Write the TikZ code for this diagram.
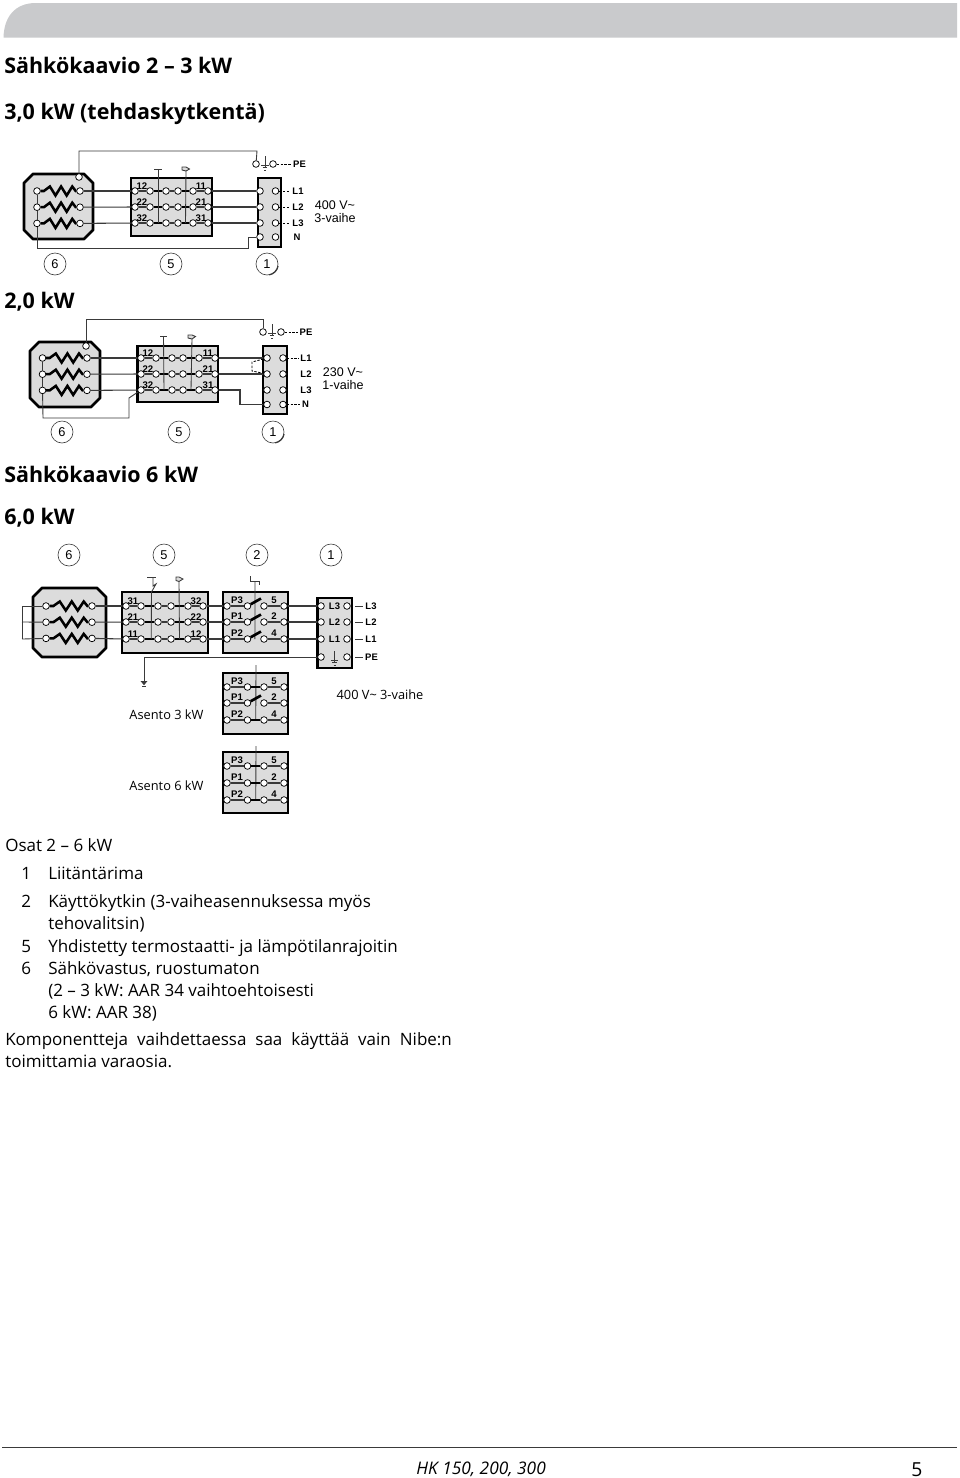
\documentclass[tikz,border=0pt]{standalone}
\usepackage{fontspec}
\setmainfont{Open Sans}
\newfontfamily\diagfont{Liberation Sans}
\usetikzlibrary{calc}
\definecolor{panelgray}{HTML}{DCDCDC}
\definecolor{bargray}{HTML}{C9CACC}
\definecolor{wiregray}{HTML}{3A3A3A}
\tikzset{
  term/.style={circle,draw=black,fill=white,inner sep=0pt,minimum size=5pt,line width=.55pt},
  wire/.style={draw=wiregray,line width=.8pt},
  fine/.style={draw=wiregray,line width=.65pt},
  link/.style={draw=black,line width=2pt},
  dotwire/.style={draw=black,line width=.65pt,dash pattern=on 1.8pt off 1.1pt,shorten >=1.2pt},
  zig/.style={draw=black,line width=1.9pt,line join=miter},
  panelbox/.style={draw=black,fill=panelgray,line width=2.1pt,inner sep=0pt,outer sep=0pt},
  ring/.style={circle,draw=wiregray,fill=white,line width=.45pt,inner sep=0pt,minimum size=16.5pt,font=\diagfont\fontsize{9.6}{10}\selectfont,text=black},
  lab/.style={inner sep=0pt,font=\diagfont\bfseries\fontsize{7.2}{8}\selectfont,text=black},
  labb/.style={inner sep=0pt,font=\diagfont\bfseries\fontsize{7.1}{8}\selectfont,text=black},
  volt/.style={inner sep=0pt,font=\diagfont\fontsize{9.4}{10}\selectfont,text=black},
  headtext/.style={inner sep=0pt,anchor=base west,font=\bfseries\fontsize{16.1}{17}\selectfont,text=black},
  bodytext/.style={inner sep=0pt,anchor=base west,font=\fontsize{12.75}{14}\selectfont,text=black},
  smalltext/.style={inner sep=0pt,font=\fontsize{9.6}{12}\selectfont,text=black},
}
% name, x0, y0, x1, y1
\newcommand{\panel}[5]{\node[panelbox,minimum width={(#4-#2)*.75pt},minimum height={(#5-#3)*.75pt}] (#1) at ({(#2+#4)/2},{(#3+#5)/2}) {};}
% prefix, x0,y0,x1,y1, cl, cr, r1 (rows r1, r1+16, ...)
\newcommand{\heater}[8]{%
  \draw[panelbox,line join=round] (#2+9,#3)--(#4-9,#3)--(#4,#3+9)--(#4,#5-9)--(#4-9,#5)--(#2+9,#5)--(#2,#5-9)--(#2,#3+9)--cycle;
  \foreach \i/\d in {1/0,2/16.2,3/32.4}{
    \node[term] (#1l\i) at (#6,#8+\d) {};
    \node[term] (#1r\i) at (#7,#8+\d) {};
    \draw[zig] (#1l\i) -- ++({(#7-#6)*.16},0) -- ++({(#7-#6)*.14},-4.5) -- ++({(#7-#6)*.13},9) -- ++({(#7-#6)*.13},-9) -- ++({(#7-#6)*.13},9) -- ++({(#7-#6)*.13},-9) -- ++({(#7-#6)*.08},4.5) -- (#1r\i);
  }
}
% name, y, xlist, left label, right label
\newcommand{\sixrow}[5]{%
  \foreach \n/\x in {#3}{\node[term] (#1\n) at (\x,#2) {};}
  \draw[wire] (#1a)--(#1b); \draw[wire] (#1c)--(#1d); \draw[wire] (#1e)--(#1f);
  \draw[link] (#1b)--(#1c); \draw[link] (#1d)--(#1e);
  \node[lab] (#1ll) at ($(#1a)+(7,-5.2)$) {#4};
  \node[lab] (#1lr) at ($(#1f)+(-7,-5.2)$) {#5};
}
% name, y, left label, right label
\newcommand{\fourrow}[4]{%
  \foreach \n/\x in {a/227,b/247.5,c/264,d/284}{\node[term] (#1\n) at (\x,#2) {};}
  \draw[wire] (#1a)--(#1b); \draw[wire] (#1c)--(#1d);
  \node[lab] (#1ll) at ($(#1a)+(10,-5.5)$) {#3};
  \node[lab] (#1lr) at ($(#1d)+(-10,-5.5)$) {#4};
}
% name, x, y
\newcommand{\earth}[3]{%
  \coordinate (#1t) at (#2,#3); \coordinate (#1b) at (#2,#3+12);
  \draw[fine] (#1t)--(#1b);
  \draw[fine] ($(#1b)+(-3.6,-3)$)--($(#1b)+(3.6,-3)$);
  \draw[fine] ($(#1b)+(-2.4,-.5)$)--($(#1b)+(2.4,-.5)$);
  \draw[fine] ($(#1b)+(-1,2)$)--($(#1b)+(1,2)$);
}
\begin{document}
\begin{tikzpicture}[x=.75pt,y=-.75pt]
\useasboundingbox (0,0) rectangle (960,1478);
\fill[white] (0,0) rectangle (960,1478);
% header bar and footer rule
\fill[bargray] (3.5,37.5) .. controls (4,18) and (14,3) .. (36,3) -- (957,3) -- (957,37.5) -- cycle;
\coordinate (footl) at (2,1447.5); \coordinate (footr) at (957,1447.5);
\draw[draw=wiregray,line width=.8pt] (footl)--(footr);
% headings
\node[headtext] (h1) at (4,73) {Sähkökaavio 2 – 3 kW};
\node[headtext] (h2) at (4,119) {3,0 kW (tehdaskytkentä)};
\node[headtext] (h3) at (4,308) {2,0 kW};
\node[headtext] (h4) at (4,482) {Sähkökaavio 6 kW};
\node[headtext] (h5) at (4,524) {6,0 kW};

%% ===== diagram 1 =====
\heater{A}{24}{174}{93}{239}{37}{80}{191}
\node[term] (Atop) at (79,177) {};
\panel{Asw}{131}{178}{212}{236}
\coordinate (As1) at (158,169.5);
\coordinate (As2) at (186,171);
\sixrow{Aa}{191}{a/135,b/150,c/166,d/178,e/193,f/208}{12}{11}
\sixrow{Ab}{207}{a/135,b/150,c/166,d/178,e/193,f/208}{22}{21}
\sixrow{Ac}{223}{a/135,b/150,c/166,d/178,e/193,f/208}{32}{31}
\panel{Atb}{258}{178}{281}{247}
\foreach \i/\y in {1/191,2/207,3/223,4/237}{
  \node[term] (Atl\i) at (260,\y) {};
  \node[term] (Atr\i) at (275.5,\y) {};
}
\draw[wire] (Ar1)--(Aaa); \draw[wire] (Ar2)--(Aba); \draw[wire] (Ar3)--(Aca);
\draw[wire] (Aaf)--(Atl1); \draw[wire] (Abf)--(Atl2); \draw[wire] (Acf)--(Atl3);
\draw[fine] (Al1)--(Al2); \draw[fine] (Al2)--(Al3);
\coordinate (Ab1) at (37,248); \coordinate (Ab2) at (248,248); \coordinate (Ab3) at (248,237);
\draw[fine] (Al3)--(Ab1)--(Ab2)--(Ab3)--(Atl4);
\node[term] (Ape1) at (256,164) {};
\node[term] (Ape2) at (273,164) {};
\coordinate (At1) at (79,151); \coordinate (At2) at (257,151);
\draw[fine] (Atop)--(At1)--(At2)--(Ape1);
\earth{Ae}{265}{156}
\node[labb] (ApeL) at (299.5,164) {PE};
\node[labb] (Al1L) at (298,191) {L1};
\node[labb] (Al2L) at (298,207) {L2};
\node[labb] (Al3L) at (298,223) {L3};
\node[labb] (AnL) at (297,237) {N};
\draw[dotwire] (Ape2)--(ApeL);
\draw[dotwire] (Atr1)--(Al1L); \draw[dotwire] (Atr2)--(Al2L); \draw[dotwire] (Atr3)--(Al3L);
\node[volt] (Av1) at (335,205) {400 V\textasciitilde};
\node[volt] (Av2) at (335,218) {3-vaihe};
\coordinate (As1a) at (154,169.5); \coordinate (As1b) at (162,169.5);
\draw[fine] (As1a)--(As1b);
\draw[fine] (As1)--($(Acb)!.5!(Acc)$);
\draw[fine,fill=panelgray] (182,167)--(186,167)--(189.5,169)--(186,171)--(182,170)--cycle;
\draw[fine] (As2)--($(Acd)!.5!(Ace)$);
\node[ring] (An6) at (55,264) {6};
\node[ring] (An5) at (171,264) {5};
\node[ring] (An1) at (267,264) {1};
\draw[wiregray,line width=.9pt] (An1.-10) arc (10:80:11);

%% ===== diagram 2 =====
\heater{B}{30}{342}{100}{407}{42.5}{87}{358}
\node[term] (Btop) at (86,346) {};
\panel{Bsw}{137.5}{346}{218}{402}
\sixrow{Ba}{358}{a/141,b/156,c/172,d/183,e/199,f/215}{12}{11}
\sixrow{Bb}{374}{a/141,b/156,c/172,d/183,e/199,f/215}{22}{21}
\sixrow{Bc}{390}{a/141,b/156,c/172,d/183,e/199,f/215}{32}{31}
\panel{Btb}{263}{346}{287}{414}
\foreach \i/\y in {1/358,2/374,3/390,4/404.5}{
  \node[term] (Btl\i) at (267,\y) {};
  \node[term] (Btr\i) at (283,\y) {};
}
\draw[wire] (Br1)--(Baa); \draw[wire] (Br2)--(Bba); \draw[wire] (Br3)--(Bca);
\draw[wire] (Baf)--(Btl1); \draw[wire] (Bbf)--(Btl2);
\coordinate (Bn1) at (240,390); \coordinate (Bn2) at (240,404.5);
\draw[wire] (Bcf)--(Bn1)--(Bn2)--(Btl4);
\draw[fine] (Bl1)--(Bl2); \draw[fine] (Bl2)--(Bl3);
\coordinate (Bb1) at (43,418); \coordinate (Bb2) at (129,418); \coordinate (Bb3) at (129,398);
\draw[fine] (Bl3)--(Bb1)--(Bb2)--(Bb3)--(Bca);
\coordinate (Bd1) at (252,362); \coordinate (Bd2) at (252,371);
\draw[dotwire,shorten >=0pt] (Btl1)--(Bd1)--(Bd2)--(Btl2);
\node[term] (Bpe1) at (263,332) {};
\node[term] (Bpe2) at (281,332) {};
\coordinate (Bt1) at (86,319); \coordinate (Bt2) at (263,319);
\draw[fine] (Btop)--(Bt1)--(Bt2)--(Bpe1);
\earth{Be}{272}{324}
\node[labb] (BpeL) at (306,332) {PE};
\node[labb] (Bl1L) at (306,358) {L1};
\node[labb] (Bl2L) at (306,374) {L2};
\node[labb] (Bl3L) at (306,390) {L3};
\node[labb] (BnL) at (305.5,404.5) {N};
\draw[dotwire] (Bpe2)--(BpeL); \draw[dotwire] (Btr1)--(Bl1L); \draw[dotwire] (Btr4)--(BnL);
\node[volt] (Bv1) at (343,372) {230 V\textasciitilde};
\node[volt] (Bv2) at (343,385) {1-vaihe};
\coordinate (Bs1a) at (160,336.5); \coordinate (Bs1b) at (167,336.5); \coordinate (Bs1) at (163.5,336.5);
\draw[fine] (Bs1a)--(Bs1b);
\draw[fine] (Bs1)--($(Bcb)!.5!(Bcc)$);
\coordinate (Bs2) at (192,339);
\draw[fine,fill=panelgray] (188,335)--(192,335)--(195.5,336.5)--(192,339)--(188,338)--cycle;
\draw[fine] (Bs2)--($(Bcd)!.5!(Bce)$);
\node[ring] (Bn6) at (62,432) {6};
\node[ring] (Bn5) at (179,432) {5};
\node[ring] (Bn1) at (273,432) {1};
\draw[wiregray,line width=.9pt] (Bn1.-10) arc (10:80:11);

%% ===== diagram 3 =====
\node[ring] (Cn6) at (69,555) {6};
\node[ring] (Cn5) at (164,555) {5};
\node[ring] (Cn2) at (257,555) {2};
\node[ring] (Cn1) at (331,555) {1};
\heater{C}{33}{588}{106}{657}{46}{92}{606}
\panel{Csw}{122}{592}{208}{653}
\sixrow{Ca}{606}{a/126,b/141,c/158,d/171,e/188,f/203}{31}{32}
\sixrow{Cb}{622}{a/126,b/141,c/158,d/171,e/188,f/203}{21}{22}
\sixrow{Cc}{639}{a/126,b/141,c/158,d/171,e/188,f/203}{11}{12}
\panel{Cps}{223}{592}{288}{653}
\fourrow{Pa}{606}{P3}{5}
\fourrow{Pb}{622}{P1}{2}
\fourrow{Pc}{639}{P2}{4}
\panel{Ctb}{317.5}{598}{352}{668}
\foreach \i/\y/\t in {1/606/L3,2/622/L2,3/639/L1,4/657/{}}{
  \node[term] (Ctl\i) at (321,\y) {};
  \node[term] (Ctr\i) at (347,\y) {};
  \node[labb] (Cin\i) at (334.5,\y) {\t};
}
\draw[wire] (Cr1)--(Caa); \draw[wire] (Cr2)--(Cba); \draw[wire] (Cr3)--(Cca);
\draw[wire] (Caf)--(Paa); \draw[wire] (Cbf)--(Pba); \draw[wire] (Ccf)--(Pca);
\draw[wire] (Pad)--(Ctl1); \draw[wire] (Pbd)--(Ctl2); \draw[wire] (Pcd)--(Ctl3);
\coordinate (Cbus1) at (22,606); \coordinate (Cbus2) at (22,622); \coordinate (Cbus3) at (22,639);
\draw[fine] (Cl1)--(Cbus1); \draw[fine] (Cl2)--(Cbus2); \draw[fine] (Cl3)--(Cbus3);
\draw[fine] (Cbus1)--(Cbus3);
\earth{Ce}{334.5}{651}
\coordinate (Cg1) at (144,657); \coordinate (Cg2) at (144,684);
\draw[fine] (Ctl4)--(Cg1)--(Cg2);
\draw[fine,fill=wiregray] (141.5,681.5)--(146.5,681.5)--(144,684.5)--cycle;
\draw[fine] (142,686.5)--(146,686.5);
\node[labb] (CoL3) at (371,606) {L3};
\node[labb] (CoL2) at (371,622) {L2};
\node[labb] (CoL1) at (371,639) {L1};
\node[labb] (CoPE) at (371.5,657) {PE};
\draw[fine,shorten >=1.5pt] (Ctr1)++(8,0) -- (CoL3.west); \draw[fine,shorten >=1.5pt] (Ctr2)++(8,0) -- (CoL2.west);
\draw[fine,shorten >=1.5pt] (Ctr3)++(8,0) -- (CoL1.west); \draw[fine,shorten >=1.5pt] (Ctr4)++(8,0) -- (CoPE.west);
% contactor stems
\draw[fine] (147,577.5)--(155.5,577.5);
\coordinate (Cs1) at (151.5,592);
\draw[fine] (153,577.5)--(153,586)--(156,584)--(Cs1)--($(Ccb)!.6!(Ccc)$);
\coordinate (Cs2) at (179,581.5);
\draw[fine,fill=panelgray] (176,577)--(179,577)--(183,579)--(179,581.5)--(176,580.5)--cycle;
\draw[fine] (Cs2)--($(Ccd)!.5!(Cce)$);
\coordinate (Cs3) at (255,581);
\draw[fine] (250,576)--(250,581)--(259,581)--(259,585);
\draw[fine] (Cs3)--($(Pcb)!.45!(Pcc)$);
\draw[link] (Pab)--++(13.5,-7.5); \draw[link] (Pbb)--++(13.5,-7.5); \draw[link] (Pcb)--++(13.5,-7.5);
\node[smalltext] (Cv) at (380,694.5) {400 V\textasciitilde{} 3-vaihe};

%% position 3 kW
\panel{Dps}{223}{673}{288}{734}
\fourrow{Da}{687}{P3}{5}
\fourrow{Db}{703}{P1}{2}
\fourrow{Dc}{720}{P2}{4}
\coordinate (Dtop) at (256,665);
\draw[fine] (Dtop)--($(Dcb)!.5!(Dcc)$);
\draw[link] (Dab)--(Dac); \draw[link] (Dcb)--(Dcc); \draw[link] (Dbb)--++(13.5,-7.5);
\node[smalltext] (Dt) at (166.5,714.5) {Asento 3 kW};

%% position 6 kW
\panel{Eps}{223}{752}{288}{813}
\fourrow{Ea}{766}{P3}{5}
\fourrow{Eb}{783}{P1}{2}
\fourrow{Ec}{800}{P2}{4}
\coordinate (Etop) at (256,746);
\draw[fine] (Etop)--($(Ecb)!.5!(Ecc)$);
\draw[link] (Eab)--(Eac); \draw[link] (Ebb)--(Ebc); \draw[link] (Ecb)--(Ecc);
\node[smalltext] (Et) at (166.5,785.5) {Asento 6 kW};

%% parts list
\node[bodytext] (o0) at (5,851) {Osat 2 – 6 kW};
\node[bodytext] (n1) at (21,879) {1};
\node[bodytext] (t1) at (48,879) {Liitäntärima};
\node[bodytext] (n2) at (21,907) {2};
\node[bodytext] (t2) at (48,907) {Käyttökytkin (3-vaiheasennuksessa myös};
\node[bodytext] (t2b) at (48,929) {tehovalitsin)};
\node[bodytext] (n5) at (21,952) {5};
\node[bodytext] (t5) at (48,952) {Yhdistetty termostaatti- ja lämpötilanrajoitin};
\node[bodytext] (n6) at (21,974) {6};
\node[bodytext] (t6) at (48,974) {Sähkövastus, ruostumaton};
\node[bodytext] (t6b) at (48,996) {(2 – 3 kW: AAR 34 vaihtoehtoisesti};
\node[bodytext] (t6c) at (48,1018) {6 kW: AAR 38)};
\node[bodytext] (k1) at (5,1045) {\makebox[335pt][s]{Komponentteja vaihdettaessa saa käyttää vain Nibe:n}};
\node[bodytext] (k2) at (5,1067) {toimittamia varaosia.};
%% footer
\node[bodytext,font=\itshape\fontsize{13}{14}\selectfont] (fa) at (416,1474) {HK 150, 200, 300};
\node[bodytext,font=\fontsize{14.5}{15}\selectfont] (fb) at (911,1476) {5};
\end{tikzpicture}
\end{document}
